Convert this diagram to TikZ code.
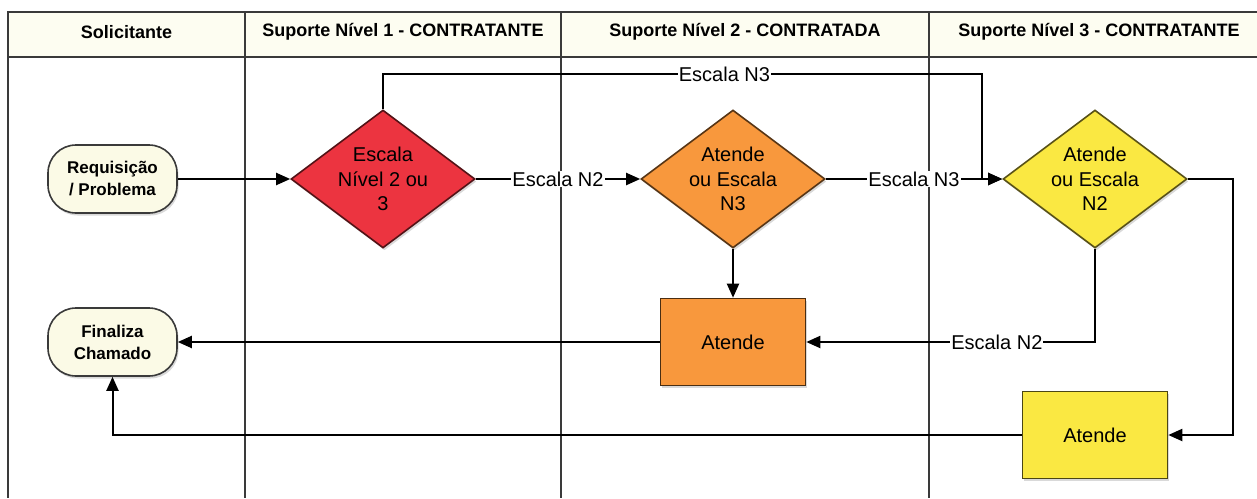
\documentclass[tikz,border=0pt]{standalone}
\usepackage{fontspec}
\setmainfont{Liberation Sans}
\usetikzlibrary{arrows.meta, shapes.geometric, shadows}
\definecolor{cred}{HTML}{EC3440}
\definecolor{corange}{HTML}{F8983D}
\definecolor{cyellow}{HTML}{FAE842}
\definecolor{ccream}{HTML}{FBFAE6}
\definecolor{chead}{HTML}{FDFDF1}
\definecolor{cline}{HTML}{3A3A3A}
\tikzset{
  shadowed/.style={drop shadow={shadow xshift=1.5pt, shadow yshift=-2.5pt, opacity=.3}},
  head/.style={font=\fontsize{18}{22}\selectfont\bfseries},
  term/.style={draw=cline, fill=ccream, rounded corners=28pt, minimum width=129pt, minimum height=68pt,
    align=center, font=\fontsize{17}{22}\selectfont\bfseries, line width=1.6pt, shadowed},
  decision/.style={diamond, aspect=1.33, draw=#1!35!black, fill=#1, inner sep=0pt, minimum width=184pt,
    minimum height=138pt, align=center, font=\fontsize{20}{24.5}\selectfont, line width=1.6pt, shadowed},
  act/.style={draw=#1!30!black, fill=#1, minimum width=145pt, minimum height=87pt,
    font=\fontsize{20}{24}\selectfont, line width=1.6pt, shadowed},
  arrow/.style={-{Triangle[length=14pt, width=12pt]}, draw=black, line width=2pt},
  lbl/.style={fill=white, inner sep=1pt, font=\fontsize{20}{24}\selectfont},
}
\begin{document}
\begin{tikzpicture}[x=1pt, y=-1pt, lane/.style={draw=cline, line width=2.5pt}]
  \useasboundingbox (0,0) rectangle (1257,498);
  % lanes
  \fill[chead] (8,12) rectangle (1257,57);
  \draw[lane] (1257,12) -- (8,12) -- (8,498);
  \draw[lane] (8,57) -- (1257,57);
  \foreach \x in {245,561,929} \draw[lane] (\x,12) -- (\x,498);
  \node[head] (h1) at (126.5,32) {Solicitante};
  \node[head] (h2) at (403,32) {Suporte Nível 1 - CONTRATANTE};
  \node[head] (h3) at (745,32) {Suporte Nível 2 - CONTRATADA};
  \node[head] (h4) at (1099,32) {Suporte Nível 3 - CONTRATANTE};

  \node[term] (req) at (112.5,179) {Requisição\\/ Problema};
  \node[term] (fin) at (112.5,342) {Finaliza\\Chamado};
  \node[decision=cred] (esc) at (383,179) {Escala\\Nível 2 ou\\3};
  \node[decision=corange] (n2) at (733,179) {Atende\\ou Escala\\N3};
  \node[decision=cyellow] (n3) at (1095,179) {Atende\\ou Escala\\N2};
  \node[act=corange] (at2) at (733,342) {Atende};
  \node[act=cyellow] (at3) at (1095,435) {Atende};
  \coordinate (top) at (982,74);
  \coordinate (rgt) at (1233,179);

  \draw[arrow] (req) -- (esc);
  \draw[arrow] (esc) -- node[lbl] {Escala N2} (n2);
  \draw[arrow] (n2) -- node[lbl] {Escala N3} (n3);
  \draw[arrow] (esc.north) -- (esc.north |- top) -- node[lbl, pos=.57] {Escala N3} (top) -- (top |- n3.west) -- (n3.west);
  \draw[arrow] (n2) -- (at2);
  \draw[arrow] (n3.south) |- node[lbl, pos=.67] {Escala N2} (at2.east);
  \draw[arrow] (n3.east) -- (rgt) |- (at3.east);
  \draw[arrow] (at2) -- (fin);
  \draw[arrow] (at3.west) -| (fin.south);
\end{tikzpicture}
\end{document}
